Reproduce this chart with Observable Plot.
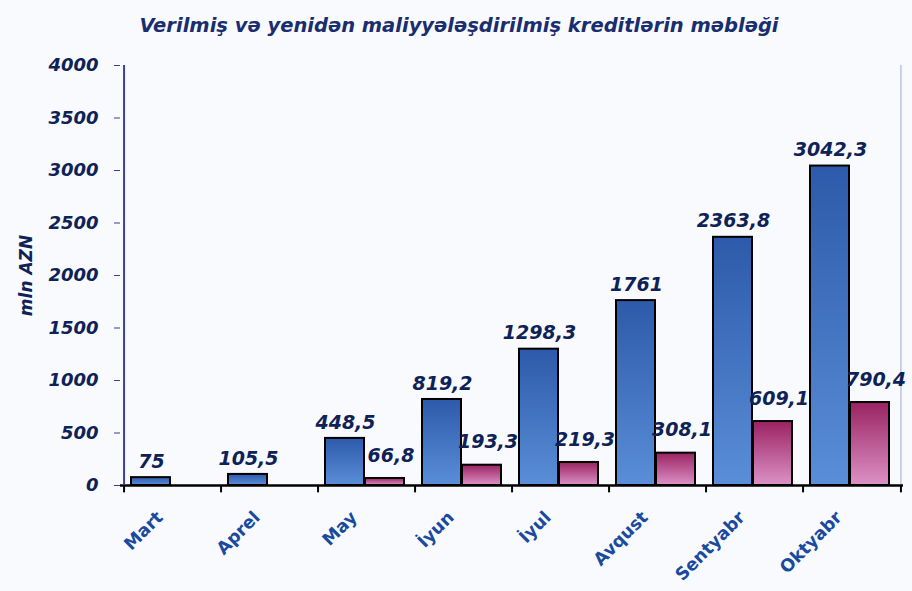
<!DOCTYPE html>
<html>
<head>
<meta charset="utf-8">
<script src="https://cdn.jsdelivr.net/npm/d3@7"></script>
<script src="https://cdn.jsdelivr.net/npm/@observablehq/plot@0.6"></script>
<style>
  body { margin: 0; background: #f8fafd; width: 912px; }
  #title { height: 50px; line-height: 52px; text-align: center; font-family: "DejaVu Sans", sans-serif; font-weight: bold; font-style: italic; font-size: 19.5px; color: #1a2d6e; padding-left: 6px; }
  svg { display: block; background: transparent; }
</style>
</head>
<body>
<div id="title">Verilmiş və yenidən maliyyələşdirilmiş kreditlərin məbləği</div>
<div id="chart"></div>
<script>
const months = ["Mart", "Aprel", "May", "İyun", "İyul", "Avqust", "Sentyabr", "Oktyabr"];
const issued = [75, 105.5, 448.5, 819.2, 1298.3, 1761, 2363.8, 3042.3];
const refinanced = [null, null, 66.8, 193.3, 219.3, 308.1, 609.1, 790.4];
const yTicks = [0, 500, 1000, 1500, 2000, 2500, 3000, 3500, 4000];
const yLabel = "mln AZN";

const rows = months.map((m, i) => ({month: m, issued: issued[i], refinanced: refinanced[i]}));
const refRows = rows.filter(d => d.refinanced != null);

const W = 912, H = 541, ML = 120, MR = 9, MT = 15, MB = 106;
const bw = (W - ML - MR) / months.length;
const fmt = d => String(d).replace(".", ",");
const navy = "#0f2257";
const labelFont = {fontFamily: "DejaVu Sans", fontWeight: "bold", fontStyle: "italic", fontSize: 19, fill: navy};

const chart = Plot.plot({
  width: W, height: H,
  marginLeft: ML, marginRight: MR, marginTop: MT, marginBottom: MB,
  style: {background: "transparent", overflow: "visible"},
  x: {domain: months, padding: 0, axis: null},
  y: {domain: [0, 4000], axis: null},
  marks: [
    Plot.ruleX([months[months.length - 1]], {dx: bw / 2, y1: 0, y2: 4000, stroke: "#aab9df", strokeWidth: 1.2}),
    Plot.barY(rows, {x: "month", y: "issued", insetLeft: 7, insetRight: 51, fill: "url(#gBlue)", stroke: "#000", strokeWidth: 2}),
    Plot.barY(refRows, {x: "month", y: "refinanced", insetLeft: 47, insetRight: 11, fill: "url(#gPink)", stroke: "#000", strokeWidth: 2}),
    Plot.ruleY([0], {stroke: "#000", strokeWidth: 2.5}),
    Plot.ruleX(months, {x: d => d, dx: -bw / 2, y1: 0, y2: -70, stroke: "#000", strokeWidth: 2}),
    Plot.ruleX([months[months.length - 1]], {dx: bw / 2, y1: 0, y2: -70, stroke: "#000", strokeWidth: 2}),
    Plot.ruleX([months[0]], {dx: -bw / 2, y1: 0, y2: 4000, stroke: "#3a3f95", strokeWidth: 2}),
    Plot.axisY({ticks: yTicks, tickSize: 6, tickPadding: 16, tickFormat: d => String(d), stroke: "#3a3f95",
      fontFamily: "DejaVu Sans", fontWeight: "bold", fontStyle: "italic", fontSize: 18, fill: navy, label: null}),
    Plot.axisX({tickSize: 0, tickRotate: -45, tickPadding: 8, dx: -13, dy: 21, label: null,
      fontFamily: "DejaVu Sans", fontWeight: "bold", fontSize: 17.5, fill: "#1a4aa0"}),
    Plot.text(rows, {x: "month", y: "issued", text: d => fmt(d.issued), dx: -21.5, dy: -16, ...labelFont}),
    Plot.text(refRows, {x: "month", y: "refinanced", text: d => fmt(d.refinanced), dx: 24, dy: -23, ...labelFont}),
    Plot.text([yLabel], {frameAnchor: "left", dx: -94, rotate: -90, textAnchor: "middle", fontFamily: "DejaVu Sans", fontStyle: "italic", fontWeight: "bold", fontSize: 17, fill: navy})
  ]
});

const svg = d3.select(chart);
const defs = svg.insert("defs", ":first-child");
const gb = defs.append("linearGradient").attr("id", "gBlue").attr("x1", 0).attr("y1", 0).attr("x2", 0).attr("y2", 1);
gb.append("stop").attr("offset", "0%").attr("stop-color", "#2d5aaa");
gb.append("stop").attr("offset", "100%").attr("stop-color", "#5a8ed8");
const gp = defs.append("linearGradient").attr("id", "gPink").attr("x1", 0).attr("y1", 0).attr("x2", 0).attr("y2", 1);
gp.append("stop").attr("offset", "0%").attr("stop-color", "#9a2262");
gp.append("stop").attr("offset", "100%").attr("stop-color", "#dc92c6");

document.getElementById("chart").appendChild(chart);
</script>
</body>
</html>
